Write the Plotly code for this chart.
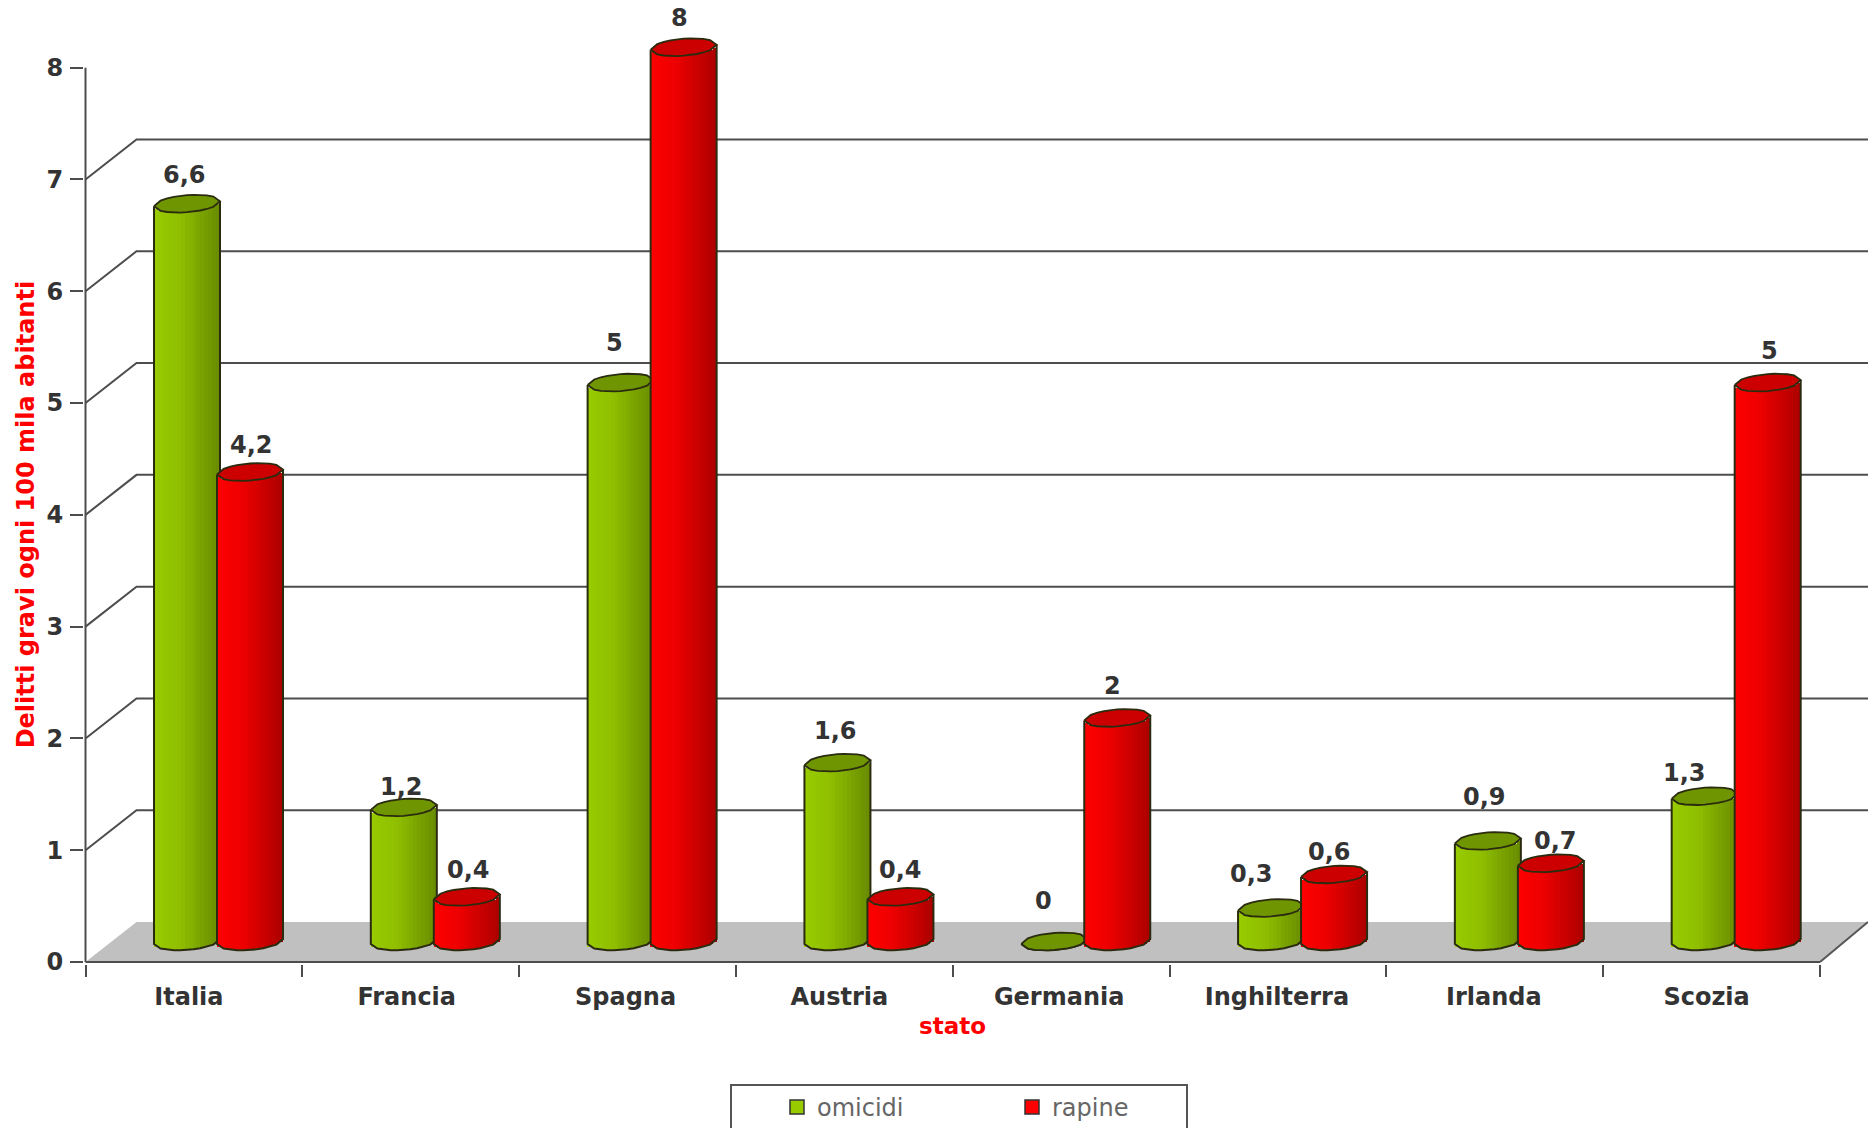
import math
import plotly.graph_objects as go

# Data
stati = ["Italia", "Francia", "Spagna", "Austria", "Germania", "Inghilterra", "Irlanda", "Scozia"]
omicidi = [6.6, 1.2, 5, 1.6, 0, 0.3, 0.9, 1.3]
rapine = [4.2, 0.4, 8, 0.4, 2, 0.6, 0.7, 5]

# Pixel scale of the chart: value 0 / 8 and category 0 / 8 on the page
PX_L, PX_R, PX_T, PX_B = 85.5, 1820.0, 67.7, 962.0
X_UNIT = (PX_R - PX_L) / 8
Y_UNIT = (PX_B - PX_T) / 8

# The plot area runs to the page edge, so tall bars and back lines are not cut
AREA_L, AREA_B = 84, 964
X_MIN = (AREA_L - PX_L) / X_UNIT
X_MAX = (1868 - PX_L) / X_UNIT
Y_MIN = (PX_B - AREA_B) / Y_UNIT
Y_MAX = PX_B / Y_UNIT

# Oblique projection of the chart box
WALL_DX = 51 / X_UNIT
WALL_DY = 40 / Y_UNIT

# Cylinder geometry
BAR_W = 66 / X_UNIT
GREEN_OFF = (154 - PX_L) / X_UNIT
RED_OFF = (217 - PX_L) / X_UNIT
BASE_V = (PX_B - 941.5) / Y_UNIT
CAP_RY = 8.5 / Y_UNIT
CAP_RY_PX = 8.5
CAP_TILT = 2.5 / Y_UNIT
SLICES = 17
FACETS = 11

# Label placement in pixels: sideways shift, height above the cap
place_omicidi = [(-3, 20), (-2, 12), (-6, 31), (-2, 23), (-11, 32), (-20, 25), (-3, 35), (-20, 15)]
place_rapine = [(1, 18), (2, 18), (-4, 21), (0, 18), (-5, 23), (-5, 14), (5, 14), (2, 23)]
tick_shift = [-5, -4, -2, -5, -2, -1, -1, -5]

INK = "#333333"
AXIS_INK = "#4d4d4d"
LABEL_FONT = dict(family="DejaVu Sans", size=24, color=INK, weight=700)
TITLE_FONT = dict(family="DejaVu Sans", color="#ff0000", weight=700)


def lower_arc(u):
    return CAP_RY * math.sqrt(max(0.0, 1 - u * u)) - CAP_TILT * u


def upper_arc(u):
    return -CAP_RY * math.sqrt(max(0.0, 1 - u * u)) - CAP_TILT * u


def shade(stops, t):
    for (t0, c0), (t1, c1) in zip(stops, stops[1:]):
        if t <= t1:
            k = (t - t0) / (t1 - t0)
            return "rgb(%d,%d,%d)" % tuple(round(a + (b - a) * k) for a, b in zip(c0, c1))
    return "rgb(%d,%d,%d)" % stops[-1][1]


def fmt(v):
    return str(v).replace(".", ",")


GREEN_STOPS = [(0, (153, 204, 0)), (0.4, (143, 190, 0)), (1, (104, 140, 0))]
RED_STOPS = [(0, (255, 0, 0)), (0.4, (236, 0, 0)), (1, (172, 0, 0))]


def cylinders(values, offset, stops, cap_color, xa, ya):
    """Gradient body as thin bars, plus outline and elliptical top."""
    xs, ys, bases, colors = [], [], [], []
    step = BAR_W / SLICES
    for i, v in enumerate(values):
        for s in range(SLICES):
            t = (s + 0.5) / SLICES
            u = 2 * t - 1
            xs.append(i + offset + t * BAR_W)
            ys.append(v)
            bases.append(BASE_V - lower_arc(u))
            colors.append(shade(stops, t))
    body = go.Bar(x=xs, y=ys, base=bases, width=step * 1.12,
                  marker=dict(color=colors, line=dict(width=0)),
                  showlegend=False, hoverinfo="skip", xaxis=xa, yaxis=ya)

    ox, oy, cx, cy = [], [], [], []
    grid = [-1 + 2 * k / (FACETS - 1) for k in range(FACETS)]
    for i, v in enumerate(values):
        left = i + offset
        px = [left + (u + 1) / 2 * BAR_W for u in grid]
        ox += [left] + px + [left + BAR_W] + [None]
        oy += [BASE_V + v - lower_arc(-1)] + [BASE_V - lower_arc(u) for u in grid] + [BASE_V + v - lower_arc(1)] + [None]
        cx += px + px[::-1] + [px[0], None]
        cy += [BASE_V + v - lower_arc(u) for u in grid] + [BASE_V + v - upper_arc(u) for u in grid[::-1]] + [BASE_V + v - lower_arc(-1), None]
    outline = go.Scatter(x=ox, y=oy, mode="lines", line=dict(color="#2b2b10", width=2),
                         showlegend=False, hoverinfo="skip", xaxis=xa, yaxis=ya)
    cap = go.Scatter(x=cx, y=cy, mode="lines", fill="toself", fillcolor=cap_color,
                     line=dict(color="#2b2b10", width=1.8),
                     showlegend=False, hoverinfo="skip", xaxis=xa, yaxis=ya)
    return [body, outline, cap]


fig = go.Figure()

# Floor of the box
fig.add_trace(go.Scatter(
    x=[0, WALL_DX, X_MAX, X_MAX, 8, 0],
    y=[0, WALL_DY, WALL_DY, WALL_DY, 0, 0],
    mode="lines", fill="toself", fillcolor="#c0c0c0", line=dict(width=0),
    showlegend=False, hoverinfo="skip"))
fig.add_trace(go.Scatter(x=[8, X_MAX], y=[0, WALL_DY], mode="lines",
                         line=dict(color="#555555", width=2),
                         showlegend=False, hoverinfo="skip"))

# Wall lines: diagonal from each tick, then horizontal along the back
gx, gy = [], []
for level in range(1, 8):
    gx += [0, WALL_DX, X_MAX, None]
    gy += [level, level + WALL_DY, level + WALL_DY, None]
fig.add_trace(go.Scatter(x=gx, y=gy, mode="lines", line=dict(color=AXIS_INK, width=2),
                         showlegend=False, hoverinfo="skip"))

# Axis lines stop at the last tick although the plot area goes on
fig.add_trace(go.Scatter(x=[0, 0, None, 0, 8], y=[0, 8, None, 0, 0], mode="lines",
                         line=dict(color=AXIS_INK, width=2),
                         showlegend=False, hoverinfo="skip"))

# Legend entries
fig.add_trace(go.Scatter(x=[None], y=[None], mode="markers", name="omicidi",
                         marker=dict(symbol="square", size=14, color="#99cc00", line=dict(color=INK, width=1.5))))
fig.add_trace(go.Scatter(x=[None], y=[None], mode="markers", name="rapine",
                         marker=dict(symbol="square", size=14, color="#ff0000", line=dict(color=INK, width=1.5))))

# Each series sits in its own overlaid subplot so red stays in front of green
for tr in cylinders(omicidi, GREEN_OFF, GREEN_STOPS, "#6f9600", "x2", "y2"):
    fig.add_trace(tr)
for tr in cylinders(rapine, RED_OFF, RED_STOPS, "#cc0000", "x3", "y3"):
    fig.add_trace(tr)

# Value labels above each cylinder
for values, offset, places in ((omicidi, GREEN_OFF, place_omicidi), (rapine, RED_OFF, place_rapine)):
    for i, v in enumerate(values):
        dx, above = places[i]
        fig.add_annotation(
            x=i + offset + BAR_W / 2, y=BASE_V + v, xref="x", yref="y",
            text=fmt(v), showarrow=False, font=LABEL_FONT,
            xanchor="center", yanchor="middle",
            xshift=dx, yshift=above + CAP_RY_PX)

# Axis titles
fig.add_annotation(x=4, y=0, xref="x", yref="y", text="stato", showarrow=False,
                   font=dict(TITLE_FONT, size=23), xanchor="center", yanchor="middle", yshift=-64)
fig.add_annotation(x=0, y=4, xref="x", yref="y", text="Delitti gravi ogni 100 mila abitanti",
                   showarrow=False, textangle=-90, font=dict(TITLE_FONT, size=24),
                   xanchor="center", yanchor="middle", xshift=-60)

x_range = [X_MIN, X_MAX]
y_range = [Y_MIN, Y_MAX]
AREA_W = 1868 - AREA_L


def paper_x(px):
    return (px - AREA_L) / AREA_W


def paper_y(py):
    return (AREA_B - py) / AREA_B


fig.update_layout(
    width=1868, height=1128, autosize=False,
    margin=dict(l=AREA_L, r=0, t=0, b=1128 - AREA_B, pad=0, autoexpand=False),
    paper_bgcolor="white", plot_bgcolor="white",
    barmode="overlay", bargap=0,
    font=dict(family="DejaVu Sans"),
    xaxis=dict(range=x_range, fixedrange=True, tickmode="array",
               tickvals=[i + 0.5 + d / X_UNIT for i, d in enumerate(tick_shift)],
               ticktext=stati, ticks="", showgrid=False, zeroline=False, showline=False,
               ticklabelstandoff=16, tickfont=LABEL_FONT,
               minor=dict(tickvals=list(range(9)), ticks="outside", ticklen=12, tickwidth=2,
                          tickcolor=AXIS_INK, showgrid=False)),
    yaxis=dict(range=y_range, fixedrange=True, tickmode="array", tickvals=list(range(9)),
               ticktext=[str(i) for i in range(9)], ticks="outside", ticklen=13, tickwidth=2,
               tickcolor=AXIS_INK, showgrid=False, zeroline=False, showline=False,
               ticklabelstandoff=2, tickfont=LABEL_FONT),
    xaxis2=dict(overlaying="x", visible=False, range=x_range, fixedrange=True),
    yaxis2=dict(overlaying="y", visible=False, range=y_range, fixedrange=True),
    xaxis3=dict(overlaying="x", visible=False, range=x_range, fixedrange=True),
    yaxis3=dict(overlaying="y", visible=False, range=y_range, fixedrange=True),
    showlegend=True,
    legend=dict(orientation="h", x=paper_x(777), y=paper_y(1085),
                xanchor="left", yanchor="top", entrywidth=190, entrywidthmode="pixels",
                font=dict(family="DejaVu Sans", size=24, color="#666666"),
                bgcolor="rgba(0,0,0,0)", itemclick=False, itemdoubleclick=False),
    shapes=[dict(type="rect", xref="paper", yref="paper",
                 x0=paper_x(731), x1=paper_x(1187),
                 y0=paper_y(1085), y1=paper_y(1160),
                 line=dict(color="#555555", width=2))],
)

fig.write_html("out.html", config={"displayModeBar": False})
